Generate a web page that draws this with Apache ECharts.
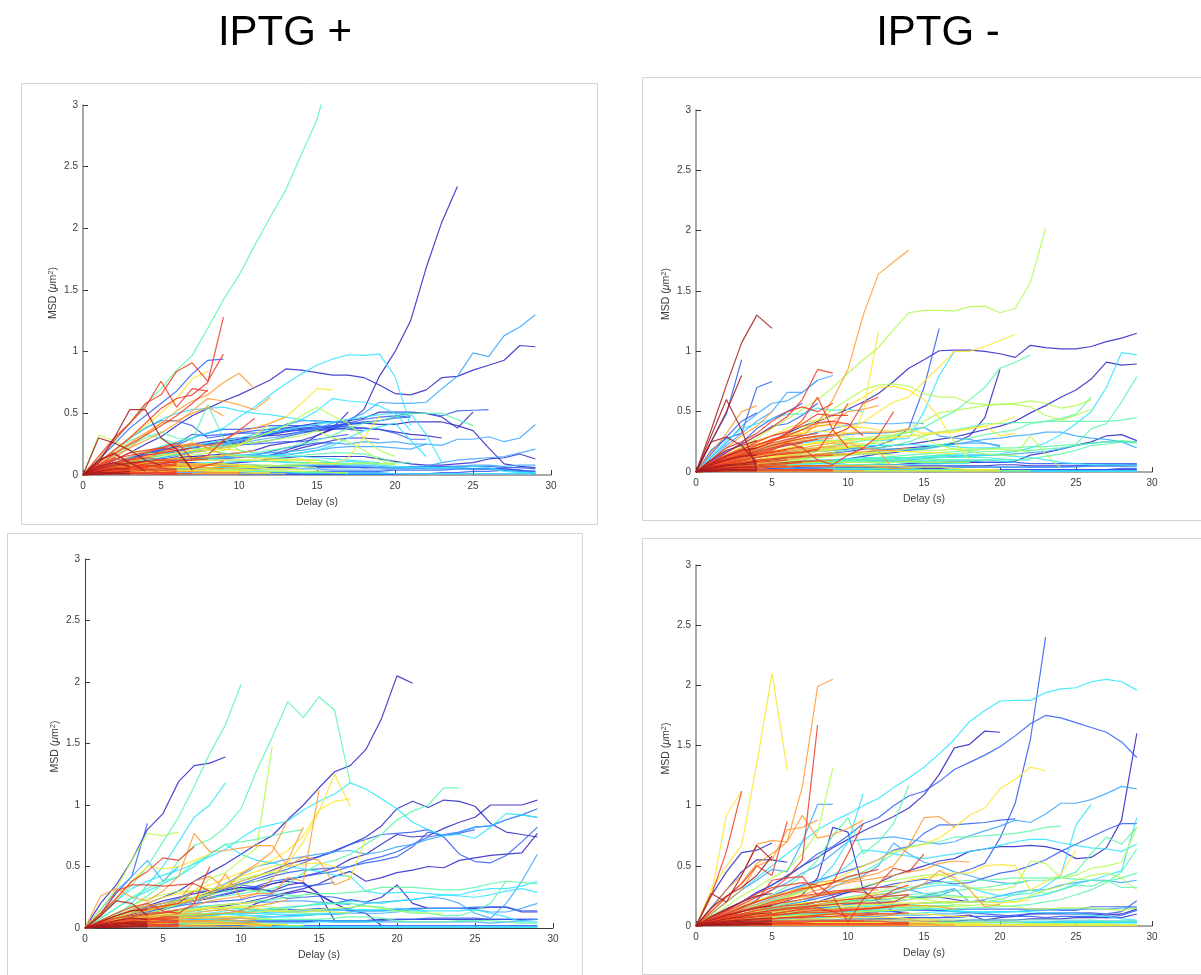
<!DOCTYPE html>
<html>
<head>
<meta charset="utf-8">
<style>
  html, body { margin: 0; background: #fff; }
  #chart { width: 1201px; height: 975px; filter: blur(0.45px); }
</style>
<script src="https://cdn.jsdelivr.net/npm/echarts@6/dist/echarts.min.js"></script>
</head>
<body>
<div id="chart"></div>
<script>
// MSD tracks, one value per second of delay starting at 0.
// Grouped by line colour, blue (long tracks) first so red ends up on top.
const titles = ["IPTG +", "IPTG -"];

// ---- top left, IPTG +
const p1DarkBlue = [
  [0,.06,.12,.18,.25,.31,.4,.48,.54,.6,.65,.71,.77,.86,.85,.83,.81,.81,.79,.73,.66,.65,.69,.79,.8,.85,.89,.93,1.05,1.04],
  [0,.03,.05,.08,.1,.12,.14,.15,.16,.17,.18,.2,.24,.26,.28,.32,.37,.43,.53,.8,1,1.25,1.68,2.05,2.34],
  [0,.04,.08,.11,.14,.17,.2,.22,.24,.25,.26,.3,.33,.38,.4,.42,.43,.44,.46,.51,.51,.51,.5,.47,.38,.51],
  [0,.04,.08,.12,.16,.19,.22,.24,.25,.27,.29,.31,.33,.35,.37,.38,.4,.41,.42,.41,.41,.43,.43,.43,.4,.36,.22,.09,.07,.06],
  [0,.03,.06,.09,.11,.13,.14,.15,.15,.15,.15,.15,.16,.2,.24,.32,.38,.51],
  [0,.04,.07,.09,.1,.1,.1,.1,.09,.09,.1,.11,.13,.14,.15,.15,.15,.15,.15,.13,.11,.09,.08,.08,.09,.1,.13,.14,.17,.13],
  [0,.02,.03,.04,.04,.05,.05,.05,.05,.05,.05,.05,.06,.06,.07,.07,.07,.07,.06,.06,.06,.06,.06,.06,.06,.05,.05,.05,.04,.01],
  [0,.05,.1,.14,.17,.2,.23,.25,.27,.29,.3,.31,.32,.33,.35,.36,.37,.38,.38,.37,.35,.33,.32,.3],
  [0,.03,.06,.08,.1,.12,.13,.14,.14,.14,.15,.14,.16,.18,.22,.25,.28,.3,.3,.29]
];
const p1Blue = [
  [0,.12,.25,.38,.48,.58,.68,.82,.93,.94],
  [0,.1,.2,.3,.38,.44,.44,.4,.3,.32,.34,.36,.37,.38,.38,.38,.39,.39,.38,.37,.34,.29,.29],
  [0,.05,.1,.14,.18,.2,.22,.24,.25,.26,.27,.3,.33,.36,.38,.39,.4,.42,.45,.47,.48,.5,.5,.48,.52,.525,.53],
  [0,.04,.07,.1,.13,.16,.19,.22,.24,.26,.28,.31,.36,.41,.44,.44,.43,.42,.42,.44,.46,.47],
  [0,.03,.06,.08,.1,.12,.15,.18,.2,.22,.24,.26,.28,.31,.34,.36,.39,.41,.43,.44,.47,.48],
  [0,.02,.05,.08,.12,.18,.24,.3,.34,.37,.37,.38,.4,.4,.4,.4,.38,.37,.36],
  [0,.02,.04,.05,.06,.07,.07,.08,.08,.08,.08,.08,.07,.07,.07,.06,.06,.06,.06,.06,.06,.06,.07,.07,.07,.07,.07,.06,.06,.05],
  [0,.01,.02,.03,.03,.03,.03,.03,.03,.03,.02,.02,.02,.02,.02,.03,.03,.03,.03,.03,.04,.04,.04,.04,.05,.05,.05,.05,.04,.03],
  [0,.01,.01,.01,.01,.01,.01,.01,.01,.01,.01,.01,.01,.01,.01,.01,.01,.01,.01,.01,.01],
  [0,.04,.08,.13,.17,.21,.25,.33,.32,.33,.34,.34,.35,.36,.36,.37,.38,.4],
  [0,.02,.05,.08,.11,.14,.16,.19,.21,.23,.25,.25,.26,.27,.27,.29,.31,.33],
  [0,.01,.03,.05,.07,.09,.11,.12,.13,.13,.14,.16,.19,.22,.24,.26,.26],
  [0,.01,.01,.01,.01,.005,.005,.005,.005,.005,.005,.005,.005,.005,.005,.005,.005,.005,.005,.005,.005],
  [0,.005,.005,.005,.005,.005,.005,.005,.005,.005,.005,.005,.005,.005,.005,.005,.005,.005,.005,.005,.005,.01,.01,.02,.02,.03,.03,.04,.03,.03]
];
const p1LightBlue = [
  [0,.03,.07,.1,.13,.16,.18,.2,.22,.24,.25,.28,.3,.32,.35,.38,.42,.45,.5,.59,.58,.58,.59,.7,.8,.99,.96,1.13,1.2,1.3],
  [0,.03,.05,.07,.09,.11,.12,.13,.14,.15,.16,.17,.18,.19,.2,.22,.26,.25,.27,.26,.27,.25,.25,.24,.29,.29,.31,.27,.3,.41],
  [0,.02,.04,.06,.08,.1,.12,.13,.14,.15,.15,.15,.16,.16,.18,.2,.22,.23,.23,.23,.22,.21,.25],
  [0,.02,.03,.04,.05,.05,.05,.06,.06,.06,.06,.06,.07,.07,.07,.08,.08,.07,.07,.06,.06,.07,.07,.1,.12,.13,.14,.15,.18,.21],
  [0,.01,.02,.03,.03,.04,.04,.05,.05,.05,.05,.05,.05,.05,.05,.05,.04,.04,.04,.04,.05,.05,.06,.06,.07,.08,.08,.07,.08,.08],
  [0,.01,.01,.01,.02,.02,.02,.02,.02,.02,.02,.02,.02,.02,.02,.02,.02,.02,.02,.02,.01,.01,.01,.01,.01,.01,.01,.01,.01,.01],
  [0,.01,.02,.03,.04,.04,.05,.05,.06,.06,.07,.07,.07,.08,.08,.08,.08,.08,.08,.07,.06,.06,.05,.05,.05,.05,.05,.04,.03,.02]
];
const p1Cyan = [
  [0,.04,.09,.14,.19,.23,.27,.3,.34,.38,.47,.55,.65,.74,.82,.89,.94,.975,.97,.98,.8,.4],
  [0,.03,.07,.1,.14,.17,.2,.23,.26,.28,.3,.33,.38,.4,.45,.52,.62,.6,.59,.56,.5,.36],
  [0,.1,.2,.3,.38,.45,.5,.53,.54,.55,.52,.5,.49,.47,.45,.43,.42],
  [0,.03,.06,.09,.12,.14,.17,.19,.22,.25,.28,.31,.34,.37,.39,.41,.43,.45,.47,.49,.5,.5,.33,.1],
  [0,.02,.04,.06,.08,.1,.11,.12,.13,.14,.15,.15,.16,.17,.18,.2,.24,.3,.36,.39,.42,.28,.15],
  [0,.02,.04,.05,.06,.07,.08,.09,.1,.1,.11,.11,.11,.1,.1,.1,.1,.11,.1,.08,.07,.06,.06,.06,.06,.07,.06,.03,.02,.02],
  [0,.01,.02,.02,.03,.03,.03,.03,.04,.03,.03,.03,.03,.03,.02,.02,.02,.01,.01,.01,.01,.01,.01,.01,.01,.01,.01,.01,.01,.01],
  [0,.03,.06,.08,.1,.12,.13,.14,.15,.16,.16,.16,.16,.15,.15,.14,.13,.12,.11,.1]
];
const p1Green = [
  [0,.13,.27,.42,.57,.7,.85,.97,1.19,1.42,1.62,1.86,2.09,2.31,2.6,2.88,3.35],
  [0,.08,.16,.24,.3,.35,.3,.28,.57,.3,.2,.18,.2,.22,.25,.28,.32,.38,.42,.44,.47,.5,.5,.5,.45,.4],
  [0,.1,.2,.28,.33,.3,.25,.22,.2,.18,.16,.15,.15,.15,.16,.17,.18,.18,.17,.14,.1,.1],
  [0,.03,.05,.07,.09,.1,.11,.12,.12,.12,.12,.12,.11,.11,.1,.1,.09,.09,.09,.09,.09],
  [0,.02,.03,.04,.05,.05,.06,.06,.05,.05,.04,.04,.03,.03,.02,.02,.02,.01],
  [0,.02,.05,.07,.09,.11,.13,.14,.15,.16,.16,.15,.14,.13,.12,.12,.1,.08]
];
const p1Lime = [
  [0,.32,.28,.2,.18,.17,.16,.16,.18,.2,.24,.3,.35,.4,.48,.55,.48,.42,.3,.2,.15],
  [0,.03,.07,.1,.13,.15,.18,.2,.22,.23,.25,.26,.28,.3,.32,.36,.3,.27,.2,.12,.08],
  [0,.02,.04,.06,.07,.08,.09,.09,.08,.07,.07,.07,.07,.08,.09,.1,.09,.09,.1,.09,.09],
  [0,.01,.02,.03,.03,.03,.04,.04,.04,.04,.04,.04,.03,.03,.03,.03,.02,.02],
  [0,.02,.04,.05,.06,.07,.08,.08,.09,.09,.08,.08,.08,.07,.07,.06],
  [0,.01,.02,.04,.05,.06,.06,.06,.06,.07,.06,.06,.05,.05]
];
const p1Yellow = [
  [0,.04,.08,.11,.14,.16,.18,.2,.21,.22,.24,.32,.42,.47,.58,.7,.69],
  [0,.03,.05,.07,.09,.1,.11,.12,.12,.12,.12,.12,.12,.12,.13,.09,.09,.14,.3,.48],
  [0,.1,.2,.3,.4,.5,.62,.78,.84],
  [0,.03,.06,.09,.11,.12,.13,.14,.15,.16,.15,.14,.13,.12,.12,.12],
  [0,.02,.04,.05,.06,.07,.07,.08,.08,.07,.07,.06,.05,.05,.04],
  [0,.01,.02,.03,.03,.04,.04,.04,.03,.03,.03,.02,.02],
  [0,.01,.01,.01,.01,.01,.01,.01,.01,.01,.01,.01,.01,.01],
  [0,.02,.03,.04,.05,.06,.06,.06,.05,.05,.05,.04],
  [0,.03,.05,.07,.08,.08,.09,.09,.09,.09,.08,.07],
  [0,.01,.02,.02,.03,.03,.03,.03,.04,.03,.03],
  [0,.02,.04,.06,.1,.12,.14,.18,.2,.21,.2]
];
const p1Orange = [
  [0,.06,.14,.22,.33,.42,.52,.6,.65,.75,.825,.7],
  [0,.08,.15,.22,.28,.34,.42,.52,.62,.6,.57,.53,.63],
  [0,.1,.18,.26,.34,.42,.44,.5,.55,.48],
  [0,.05,.1,.15,.19,.22,.24,.25,.22,.28,.35,.38,.42,.47],
  [0,.04,.08,.12,.15,.19,.22,.26,.22,.16,.18,.2],
  [0,.02,.04,.06,.07,.08,.08,.08,.08,.07,.07],
  [0,.01,.02,.02,.03,.03,.03,.03,.02,.02,.02],
  [0,.01,.01,.01,.01,.01,.01,.01,.01,.01,.01],
  [0,.03,.06,.1,.14,.18,.22,.24,.24,.25],
  [0,.02,.05,.08,.1,.12,.13,.14,.14,.15],
  [0,.04,.07,.09,.1,.11,.1,.09,.08],
  [0,.005,.01,.01,.01,.01,.01,.01,.01,.01,.01],
  [0,.02,.03,.05,.06,.06,.07,.07,.06,.05]
];
const p1Red = [
  [0,.1,.2,.3,.42,.54,.62,.65,.75,1.28],
  [0,.12,.28,.42,.58,.65,.84,.91,.76,.98],
  [0,.15,.3,.42,.55,.76,.55,.7,.68],
  [0,.08,.17,.25,.32,.4,.48,.58,.69],
  [0,.06,.12,.18,.2,.22,.26,.13,.16,.28,.36,.46],
  [0,.07,.13,.16,.18,.22,.2,.05,.08,.11],
  [0,.12,.18,.1,.05,.02,.01,.01],
  [0,.05,.1,.13,.16,.18,.2,.22],
  [0,.04,.07,.09,.11,.12,.12,.12,.13],
  [0,.03,.05,.06,.07,.07,.08],
  [0,.02,.03,.04,.05,.05,.05],
  [0,.01,.02,.02,.02,.02,.02],
  [0,.01,.01,.01,.01,.01,.01],
  [0,.06,.09,.12,.14,.12,.1],
  [0,.03,.04,.05,.06,.09,.11,.12],
  [0,.04,.06,.07,.08,.08,.09],
  [0,.02,.04,.06,.09,.1,.1],
  [0,.005,.01,.01,.01,.005,.005],
  [0,.08,.14,.1,.08,.06,.04],
  [0,.01,.03,.03,.04,.04,.03]
];
const p1DarkRed = [
  [0,.1,.3,.53,.53,.3,.21,.04],
  [0,.3,.26,.2,.12,.08],
  [0,.12,.17,.1,.03],
  [0,.05,.08,.1,.11],
  [0,.03,.05,.05],
  [0,.02,.02,.03],
  [0,.01,.01,.01],
  [0,.005,.01,.01],
  [0,.07,.1,.07]
];

// ---- top right, IPTG -
const p2DarkBlue = [
  [0,.05,.1,.15,.2,.26,.32,.38,.42,.47,.52,.58,.65,.75,.86,.93,1.005,1.01,1.01,1,.98,.95,1.05,1.03,1.02,1.02,1.04,1.08,1.11,1.15],
  [0,.02,.04,.06,.08,.1,.11,.12,.14,.16,.17,.19,.2,.22,.23,.25,.27,.29,.32,.35,.38,.42,.49,.55,.62,.68,.77,.91,.885,.895],
  [0,.01,.02,.03,.03,.04,.04,.04,.05,.05,.05,.06,.06,.06,.07,.07,.07,.08,.08,.08,.08,.09,.14,.16,.19,.22,.25,.3,.31,.26],
  [0,.02,.05,.07,.09,.11,.12,.13,.14,.15,.15,.16,.18,.19,.2,.21,.22,.24,.3,.45,.85],
  [0,.01,.02,.03,.03,.03,.03,.03,.03,.03,.04,.04,.04,.04,.05,.05,.05,.05,.05,.05,.06,.06,.05,.05,.05,.05,.05,.05,.05,.05],
  [0,.01,.01,.01,.01,.01,.01,.02,.02,.02,.02,.02,.02,.02,.03,.03,.03,.02,.02,.02,.02,.02,.02,.02,.02,.02,.02,.02,.02,.02],
  [0,.02,.03,.04,.05,.06,.07,.08,.09,.1,.11,.13,.15,.16,.18,.2,.22,.23]
];
const p2Blue = [
  [0,.04,.07,.1,.12,.14,.15,.16,.17,.18,.19,.2,.22,.27,.36,.7,1.19],
  [0,.25,.48,.93],
  [0,.18,.28,.32,.7,.75],
  [0,.08,.16,.24,.36,.44,.5,.57],
  [0,.15,.29,.42,.49],
  [0,.02,.03,.05,.06,.07,.08,.08,.08,.09,.1,.1,.1,.09,.09,.08,.08,.09,.09,.08,.08,.08,.07,.07,.07,.07,.07,.07,.07,.07],
  [0,.01,.02,.02,.03,.03,.04,.04,.04,.04,.04,.04,.04,.04,.04,.04,.04,.04,.04,.04,.04,.04,.04,.04,.04,.05,.05,.06,.06,.06],
  [0,.01,.01,.01,.01,.01,.01,.01,.01,.01,.01,.01,.01,.01,.02,.02,.02,.02,.02,.02,.02,.02,.02,.02,.02,.02,.02,.02,.03,.03],
  [0,.005,.005,.005,.01,.01,.01,.01,.01,.01,.01,.01,.01,.01,.01,.01,.01,.01,.01,.01,.01,.01,.01,.01,.01,.01,.01,.015,.015,.015],
  [0,.09,.17,.23,.3,.38,.4,.47,.57]
];
const p2LightBlue = [
  [0,.12,.24,.38,.48,.57,.59,.66,.76,.8],
  [0,.1,.22,.32,.42,.5,.66,.66,.76],
  [0,.05,.1,.14,.18,.22,.26,.3,.33,.36,.39,.41,.4,.4,.41,.4],
  [0,.04,.08,.12,.17,.2,.22,.25,.28,.3,.31,.32,.32,.33,.35,.37,.3,.28,.27,.24,.21],
  [0,.02,.04,.06,.08,.09,.1,.12,.13,.14,.14,.15,.16,.17,.18,.19,.21,.23,.25,.27,.28,.3,.31,.33,.33,.3,.28,.27,.25,.2],
  [0,.01,.03,.04,.05,.06,.06,.07,.07,.07,.08,.08,.09,.09,.1,.11,.12,.13,.14,.14,.14,.15,.16,.17,.19,.22,.24,.25,.25,.25],
  [0,.01,.02,.02,.02,.02,.03,.03,.03,.03,.03,.03,.03,.03,.03,.04,.04,.04,.04,.04,.04,.04,.04,.04,.04,.04,.05,.05,.05,.05],
  [0,.03,.06,.08,.1,.12,.14,.16,.18,.2,.2,.2,.19,.19,.19,.2,.22,.23,.24,.24,.22]
];
const p2Cyan = [
  [0,.02,.04,.06,.07,.08,.08,.09,.09,.09,.1,.1,.1,.11,.11,.12,.12,.12,.13,.14,.15,.17,.2,.24,.31,.4,.5,.7,.99,.97],
  [0,.05,.1,.14,.18,.22,.23,.24,.26,.26,.27,.27,.26,.27,.28,.5,.8,1],
  [0,.13,.26,.36,.4,.44,.48,.48,.53,.51,.52,.5],
  [0,.03,.06,.09,.12,.15,.16,.18,.19,.2,.21,.22,.22,.22,.23,.22,.22,.21,.2,.2,.2],
  [0,.02,.03,.05,.06,.07,.08,.09,.1,.1,.1,.11,.11,.11,.12,.12,.13,.14,.14,.14,.14,.13,.12,.1,.08,.07,.06,.06,.06,.05],
  [0,.01,.01,.02,.02,.02,.02,.02,.02,.02,.02,.02,.02,.02,.02,.02,.02,.02,.02,.02,.01,.01,.01,.01,.01,.01,.01,.01,.01,.01],
  [0,.02,.03,.04,.05,.06,.07,.08,.09,.1,.11,.12,.12,.12,.12,.13,.14,.14,.13,.12,.11,.1,.1],
  [0,.01,.02,.03,.04,.05,.05,.06,.07,.07,.08,.08,.09,.09,.09,.09,.1,.1,.1,.1,.09,.08],
  [0,.01,.02,.03,.03,.04,.04,.05,.05,.05,.06,.06,.06,.06,.06,.07,.07,.07,.07],
  [0,.005,.01,.01,.01,.01,.01,.01,.01,.01,.01,.01,.01,.01,.01,.01,.01,.01,.01,.01,.01,.01,.01,.005,.005,.005,.005,.005,.005,.005]
];
const p2Green = [
  [0,.03,.07,.1,.13,.15,.17,.19,.2,.22,.24,.26,.28,.3,.33,.37,.44,.5,.6,.7,.86,.91,.97],
  [0,.02,.04,.06,.08,.09,.1,.11,.13,.14,.15,.16,.17,.18,.19,.2,.22,.25,.28,.31,.33,.35,.4,.42,.44,.48,.62],
  [0,.03,.06,.08,.1,.11,.12,.13,.14,.16,.18,.2,.2,.22,.25,.3,.33,.35,.37,.4,.4,.41,.41,.42,.42,.42,.42,.42,.43,.45],
  [0,.02,.03,.05,.06,.07,.08,.09,.09,.09,.1,.11,.12,.13,.14,.15,.16,.17,.18,.19,.2,.2,.21,.21,.22,.23,.36,.4,.58,.79],
  [0,.02,.03,.04,.05,.06,.07,.08,.08,.09,.1,.1,.11,.12,.12,.13,.14,.15,.16,.17,.17,.18,.18,.19,.2,.22,.24,.25,.26,.25],
  [0,.01,.02,.03,.04,.04,.05,.05,.05,.06,.06,.06,.07,.08,.08,.08,.09,.09,.09,.1,.1,.1,.11,.13,.15,.18,.22,.23,.25,.24],
  [0,.02,.03,.04,.05,.06,.07,.07,.08,.09,.09,.1,.1,.1,.11,.11,.12,.12,.12,.12],
  [0,.01,.03,.04,.05,.06,.06,.07,.08,.08,.08,.09,.09,.09,.09,.1,.1,.1],
  [0,.005,.01,.01,.01,.02,.02,.02,.02,.03,.03,.03,.03,.03,.03,.02,.02,.02,.02,.02]
];
const p2Lime = [
  [0,.07,.14,.21,.28,.36,.44,.52,.6,.7,.82,.93,1.03,1.18,1.32,1.34,1.34,1.335,1.37,1.375,1.32,1.355,1.57,2.02],
  [0,.05,.1,.15,.2,.25,.3,.36,.43,.52,.6,.68,.72,.73,.71,.65,.62,.62,.57,.56,.56,.56,.54,.47,.43,.47,.52],
  [0,.03,.06,.08,.1,.12,.14,.16,.17,.18,.2,.22,.26,.3,.36,.42,.49,.51,.53,.55,.56,.57,.59,.57,.53,.55,.6],
  [0,.04,.08,.12,.15,.17,.19,.22,.24,.25,.27,.28,.3,.31,.33,.28,.22,.19,.17,.15,.14,.14,.3,.15,.03],
  [0,.02,.04,.06,.07,.09,.1,.11,.12,.14,.15,.16,.16,.17,.17,.18,.18,.19,.19,.19,.19,.18,.17],
  [0,.02,.04,.05,.06,.06,.07,.08,.08,.08,.08,.08,.08,.08,.09,.08,.08,.08,.08],
  [0,.01,.01,.01,.01,.01,.01,.01,.01,.01,.01,.01,.01,.01,.01,.01,.01,.01,.01,.01,.01,.01,.01],
  [0,.05,.09,.13,.17,.21,.25,.28,.3,.31,.28,.27,.28,.29,.3],
  [0,.03,.05,.07,.09,.11,.13,.15,.17,.19,.21,.23,.24,.25],
  [0,.02,.03,.05,.06,.08,.09,.1,.12,.13,.14,.15,.15,.14]
];
const p2Yellow = [
  [0,.03,.05,.08,.1,.13,.16,.18,.2,.22,.37,.41,.5,.58,.62,.75,.87,1,1,1.04,1.09,1.14],
  [0,.02,.05,.08,.1,.12,.15,.16,.18,.19,.2,.5,1.16],
  [0,.07,.12,.18,.24,.3,.36,.41,.43,.46,.55,.62,.7,.71,.68,.6,.45,.25,.1],
  [0,.05,.1,.15,.2,.26,.3,.33,.38,.39,.37,.37,.35,.34,.35,.32,.33,.34,.36,.38,.3,.32],
  [0,.04,.08,.11,.14,.17,.2,.22,.24,.25,.26,.27,.27,.28,.3,.31,.32,.33,.36,.38,.41,.46],
  [0,.02,.04,.06,.08,.09,.11,.12,.14,.15,.15,.16,.16,.17,.17,.16,.16,.15],
  [0,.01,.02,.03,.03,.04,.04,.05,.05,.05,.05,.05,.05,.05,.04,.04,.04,.03,.02,.02,.02],
  [0,.06,.11,.16,.21,.26,.29,.32,.34,.33,.32],
  [0,.03,.07,.1,.13,.16,.19,.22,.25,.26,.24,.23],
  [0,.02,.05,.07,.09,.11,.14,.17,.19,.2,.21,.21],
  [0,.005,.01,.01,.01,.01,.01,.01,.01,.01,.01,.01,.01,.01,.01,.01,.01,.01,.01,.01,.01]
];
const p2Orange = [
  [0,.03,.06,.1,.14,.18,.25,.3,.4,.6,.85,1.3,1.64,1.74,1.84],
  [0,.16,.32,.5,.55],
  [0,.1,.2,.3,.38,.5],
  [0,.08,.14,.2,.26,.3,.34,.38,.4,.42,.5,.52,.55],
  [0,.05,.1,.14,.19,.23,.26,.27,.29,.3,.32,.33,.33,.33,.36],
  [0,.04,.07,.1,.13,.16,.18,.2,.22,.24,.24,.2,.18,.02],
  [0,.02,.04,.05,.07,.08,.1,.12,.13,.14,.15,.17,.18,.18,.2],
  [0,.01,.02,.03,.04,.04,.05,.05,.05,.05,.05,.05,.04,.03,.03],
  [0,.06,.12,.17,.22,.27,.31,.35,.38,.4,.4],
  [0,.05,.09,.13,.17,.21,.24,.26,.27,.28],
  [0,.03,.06,.09,.12,.15,.17,.19,.2,.21,.23],
  [0,.02,.05,.07,.09,.11,.13,.14,.15,.16],
  [0,.01,.03,.04,.05,.06,.07,.08,.09,.1],
  [0,.005,.01,.01,.01,.01,.01,.01,.01,.01,.01,.01]
];
const p2Red = [
  [0,.08,.16,.23,.3,.37,.46,.6,.85,.82],
  [0,.05,.1,.15,.2,.25,.32,.43,.62,.35,.2],
  [0,.1,.2,.25,.32,.42,.5,.54,.5,.57],
  [0,.06,.12,.17,.22,.27,.3,.35,.41,.42,.4,.3],
  [0,.05,.1,.14,.18,.22,.25,.28,.3,.31,.36,.57,.62],
  [0,.07,.13,.18,.25,.3,.33,.4,.48,.47,.47],
  [0,.05,.09,.13,.15,.18,.24,.2,.1,.06,.14,.2,.3,.5],
  [0,.04,.07,.1,.12,.14,.15,.16,.18,.35,.57],
  [0,.03,.06,.08,.1,.11,.12,.13,.14,.14],
  [0,.02,.04,.05,.06,.07,.08,.09,.09],
  [0,.01,.02,.03,.03,.04,.04,.05,.05,.05],
  [0,.01,.01,.02,.02,.02,.02,.02,.02,.02],
  [0,.01,.01,.01,.01,.01,.01,.01,.01,.01],
  [0,.06,.11,.16,.2,.24,.27,.3,.32],
  [0,.05,.1,.13,.17,.2,.23,.25,.27],
  [0,.04,.08,.12,.15,.17,.19,.21],
  [0,.04,.07,.09,.12,.14,.16,.17,.19],
  [0,.03,.05,.07,.09,.1,.12,.13],
  [0,.02,.05,.06,.08,.09,.1],
  [0,.02,.03,.04,.05,.06,.07,.08],
  [0,.01,.03,.03,.04,.05,.05],
  [0,.03,.07,.11,.14,.16,.18],
  [0,.08,.14,.19,.23,.26,.29,.31],
  [0,.07,.11,.14,.16,.19,.22,.24]
];
const p2DarkRed = [
  [0,.35,.72,1.07,1.3,1.19],
  [0,.3,.6,.35,.02],
  [0,.25,.5,.8],
  [0,.25,.29,.22,.08],
  [0,.1,.18,.22,.26],
  [0,.06,.1,.13,.14],
  [0,.04,.06,.07,.09],
  [0,.02,.03,.04,.04],
  [0,.01,.02,.02,.02],
  [0,.07,.13,.18,.2],
  [0,.03,.05,.06,.07],
  [0,.005,.01,.01,.01]
];

// ---- bottom left, IPTG +
const p3DarkBlue = [
  [0,.2,.35,.55,.8,.93,1.19,1.32,1.34,1.39],
  [0,.05,.1,.15,.2,.25,.3,.38,.45,.52,.6,.68,.75,.88,1,1.14,1.27,1.32,1.45,1.7,2.05,1.99],
  [0,.05,.1,.14,.18,.22,.25,.28,.3,.33,.38,.42,.47,.52,.55,.58,.63,.68,.74,.83,.97,1.03,.98,1.04,1.03,.99,.85,.78,.76,.74],
  [0,.03,.07,.11,.14,.17,.2,.22,.24,.27,.3,.33,.36,.39,.42,.45,.49,.56,.6,.68,.76,.74,.75,.81,.86,.9,1,1,1,1.04],
  [0,.03,.05,.07,.09,.1,.12,.14,.16,.18,.2,.23,.26,.29,.32,.36,.42,.46,.38,.41,.45,.47,.5,.49,.55,.57,.59,.6,.61,.77],
  [0,.04,.08,.12,.15,.18,.22,.25,.29,.3,.33,.32,.3,.35,.37,.27,.2,.23,.21,.25,.35,.2,.16,.16,.16,.16,.17,.17,.13,.13],
  [0,.02,.04,.05,.06,.07,.08,.09,.1,.12,.14,.2,.24,.28,.3,.27,.2,.14,.12,.02],
  [0,.01,.02,.03,.03,.03,.03,.03,.04,.04,.04,.05,.05,.05,.05,.06,.06,.06,.06,.07,.07,.07,.07,.07,.07,.07,.07,.07,.07,.07],
  [0,.03,.06,.09,.12,.15,.19,.22,.27,.31,.33,.31,.36,.38,.36,.28,.06]
];
const p3Blue = [
  [0,.03,.06,.1,.13,.16,.2,.24,.28,.32,.36,.4,.44,.48,.53,.58,.62,.68,.72,.76,.77,.78,.8,.74,.6,.54,.53,.59,.7,.82],
  [0,.02,.05,.08,.12,.16,.2,.24,.28,.33,.36,.38,.42,.45,.47,.48,.49,.5,.55,.58,.62,.68,.74,.76,.78,.82,.83,.88,.92,.97],
  [0,.03,.07,.1,.14,.17,.19,.22,.25,.28,.31,.34,.38,.4,.42,.44,.46,.5,.53,.55,.58,.66,.78,.75,.77,.8],
  [0,.12,.28,.42,.85],
  [0,.02,.04,.06,.08,.09,.1,.11,.12,.12,.13,.14,.15,.15,.15,.16,.15,.14,.14,.14,.15,.16,.16,.16,.16,.17,.17,.17,.14,.14],
  [0,.01,.02,.03,.04,.05,.05,.05,.06,.06,.06,.06,.06,.06,.06,.06,.05,.05,.05,.06,.07,.07,.08,.08,.08,.08,.07,.07,.07,.07],
  [0,.01,.01,.01,.01,.01,.02,.02,.02,.02,.02,.02,.02,.02,.02,.02,.02,.02,.02,.02,.02,.02,.02,.02,.02,.02,.02,.02,.02,.02],
  [0,.04,.08,.12,.17,.2,.24,.3,.3,.32,.35,.33,.29,.32,.34,.35,.37],
  [0,.02,.05,.09,.12,.15,.18,.2,.21,.22,.23,.26,.27,.24,.25,.26,.25,.22],
  [0,.005,.005,.005,.005,.005,.005,.005,.005,.005,.005,.005,.005,.005,.005,.005,.005,.005,.005,.005,.005,.005,.005,.005,.005,.005,.005,.005,.01,.01]
];
const p3LightBlue = [
  [0,.03,.05,.08,.1,.12,.14,.18,.3,.36,.43,.5,.53,.56,.58,.6,.62,.63,.6,.62,.66,.68,.72,.75,.78,.82,.83,.88,.92,.9],
  [0,.15,.3,.42,.55,.38,.5],
  [0,.02,.04,.05,.07,.08,.09,.1,.11,.12,.12,.12,.13,.13,.14,.14,.15,.16,.2,.21,.22,.23,.25,.24,.2,.12,.08,.2,.38,.6],
  [0,.02,.03,.04,.05,.06,.06,.07,.07,.08,.08,.09,.09,.1,.1,.11,.11,.12,.12,.12,.13,.15,.16,.16,.16,.15,.13,.13,.16,.2],
  [0,.01,.02,.02,.03,.03,.04,.04,.04,.05,.05,.06,.06,.06,.06,.06,.06,.06,.06,.05,.05,.05,.05,.05,.05,.05,.04,.05,.06,.07],
  [0,.02,.05,.07,.1,.13,.15,.17,.18,.19,.2,.21,.21,.22,.22,.21,.2,.19]
];
const p3Cyan = [
  [0,.1,.22,.32,.38,.43,.47,.52,.58,.64,.73,.81,.84,.87,.96,1.03,1.09,1.18,1.13,1.05,.97,.86,.8,.75,.76,.73,.82,.93,.92,.9],
  [0,.08,.16,.24,.3,.36,.42,.5,.6,.68,.6,.55,.53,.5,.48,.46,.43,.42,.3,.28,.29,.29,.28,.27,.27,.3,.32,.32,.34,.38],
  [0,.02,.04,.06,.07,.08,.1,.11,.12,.14,.15,.15,.16,.17,.18,.19,.2,.22,.21,.2,.22,.23,.25,.27,.26,.25,.27,.3,.32,.29],
  [0,.05,.1,.2,.35,.5,.7,.9,1,1.18],
  [0,.01,.02,.03,.04,.05,.05,.06,.07,.07,.08,.08,.09,.09,.1,.11,.12,.13,.14,.14,.14,.14,.14,.14,.14,.15,.12,.09,.05,.05],
  [0,.01,.01,.01,.01,.01,.01,.01,.01,.01,.01,.01,.01,.01,.01,.01,.01,.01,.01,.01,.01,.01,.01,.01,.01,.01,.01,.01,.01,.01],
  [0,.02,.03,.05,.06,.08,.09,.1,.1,.11,.11,.12,.12,.13,.13,.14,.14,.15,.15,.15,.16,.15,.13],
  [0,.01,.03,.04,.05,.06,.07,.08,.09,.09,.1,.1,.11,.11,.11,.12,.12,.12],
  [0,.01,.01,.02,.02,.03,.03,.03,.03,.04,.04,.04,.04,.04,.04,.05,.05,.05,.05,.05],
  [0,.005,.005,.005,.005,.005,.005,.005,.005,.005,.005,.005,.005,.005,.005,.005,.005,.005,.005,.005,.005,.005,.005,.005,.005,.005,.005,.005,.005,.005]
];
const p3Green = [
  [0,.1,.22,.35,.5,.7,.9,1.15,1.42,1.65,1.98],
  [0,.06,.12,.18,.26,.36,.55,.67,.72,.82,.97,1.28,1.55,1.84,1.71,1.88,1.77,1.18],
  [0,.08,.16,.25,.32,.38,.42,.53,.6,.68,.7,.72,.75,.78,.8],
  [0,.03,.06,.09,.12,.15,.19,.22,.25,.26,.28,.3,.32,.36,.45,.52,.55,.6,.68,.76,.88,.95,1,1.14,1.14],
  [0,.03,.06,.08,.1,.12,.14,.16,.18,.19,.2,.22,.23,.25,.27,.28,.28,.29,.3,.33,.33,.33,.32,.31,.31,.33,.36,.38,.37,.36],
  [0,.02,.04,.06,.07,.09,.1,.11,.11,.12,.13,.14,.15,.16,.18,.2,.2,.2,.18,.17,.14,.12,.12,.1,.1,.14,.2,.38],
  [0,.02,.03,.04,.05,.05,.06,.06,.06,.06,.06,.07,.07,.07,.07,.07,.08,.09,.09,.08,.06,.05,.05,.05,.06,.06,.06,.05,.04,.04],
  [0,.05,.1,.14,.18,.2,.23,.25,.27,.3,.32,.3,.28,.27,.25],
  [0,.02,.05,.07,.09,.1,.12,.13,.14,.16,.16,.15,.14,.13,.12,.11]
];
const p3Lime = [
  [0,.15,.32,.55,.77,.75,.78],
  [0,.05,.09,.13,.16,.18,.22,.3,.4,.45,.55,.65,1.47],
  [0,.03,.06,.09,.12,.15,.2,.25,.3,.35,.4,.43,.45,.46],
  [0,.02,.04,.06,.08,.09,.1,.11,.12,.12,.13,.13,.14,.14,.15,.15,.16,.17,.18,.16,.14,.13,.12,.12],
  [0,.01,.02,.03,.03,.04,.04,.04,.04,.04,.03,.03,.03,.02,.02],
  [0,.06,.12,.18,.24,.27,.3,.3,.32,.33,.35,.38,.4],
  [0,.03,.05,.08,.1,.12,.14,.15,.16,.17,.18,.18,.17,.15],
  [0,.02,.03,.05,.06,.07,.08,.09,.09,.09,.09,.08,.07]
];
const p3Yellow = [
  [0,.12,.24,.38,.5,.48,.5,.55,.6],
  [0,.05,.1,.15,.2,.25,.28,.3,.35,.4,.45,.5,.55,.63,.75,.96,1.03,1.05],
  [0,.04,.08,.12,.15,.18,.2,.25,.3,.35,.42,.46,.5,.53,.7,.95,1.25,.99],
  [0,.03,.07,.1,.14,.17,.2,.24,.28,.33,.38,.42,.46,.5,.52,.53,.5,.4,.73],
  [0,.02,.04,.06,.08,.1,.12,.14,.16,.16,.17,.16,.14,.13,.13,.14,.13,.12],
  [0,.01,.02,.03,.04,.04,.05,.05,.05,.05,.04,.04,.03,.03],
  [0,.03,.05,.07,.09,.11,.13,.15,.17,.19,.2,.21],
  [0,.02,.03,.05,.06,.07,.08,.08,.09,.09,.09,.08],
  [0,.01,.01,.02,.02,.02,.02,.03,.03,.03,.03,.02,.02]
];
const p3Orange = [
  [0,.26,.32,.25,.22,.3,.42,.77,.62,.63,.65,.67,.67,.5,.58,.55,.35,.4],
  [0,.05,.1,.14,.18,.2,.22,.38,.42,.32,.44,.52,.62,.88],
  [0,.04,.08,.12,.15,.17,.2,.22,.25,.44,.24,.28,.4,.55,.82],
  [0,.03,.06,.08,.1,.13,.15,.18,.22,.24,.26,.28,.28,.41,.38,1.12],
  [0,.02,.04,.06,.07,.08,.09,.1,.11,.12,.14,.18,.2,.23],
  [0,.01,.02,.03,.04,.04,.05,.05,.05,.04,.04,.03,.01],
  [0,.01,.01,.02,.02,.02,.02,.02,.02,.01,.01],
  [0,.02,.03,.05,.06,.07,.07,.08,.08,.08,.08,.07],
  [0,.01,.03,.04,.05,.05,.06,.06,.06,.07,.06,.05],
  [0,.005,.01,.01,.01,.01,.01,.01,.01,.01,.01,.01],
  [0,.03,.05,.07,.09,.1,.11,.12,.14,.15,.13,.12]
];
const p3Red = [
  [0,.12,.24,.38,.46,.57,.55,.66],
  [0,.1,.3,.35,.35,.34,.35,.36,.3],
  [0,.06,.12,.17,.2,.14,.12,.2,.5],
  [0,.05,.1,.14,.16,.18,.2,.3],
  [0,.04,.08,.1,.12,.13,.12],
  [0,.03,.05,.07,.08,.08,.08],
  [0,.02,.03,.05,.05,.06,.05],
  [0,.01,.02,.03,.03,.03,.03],
  [0,.01,.01,.01,.01,.01,.01],
  [0,.02,.04,.06,.07,.07,.06],
  [0,.01,.03,.04,.04,.05,.04],
  [0,.02,.04,.04,.06,.09,.09],
  [0,.005,.01,.01,.02,.02,.02],
  [0,.03,.06,.09,.11,.12,.15]
];
const p3DarkRed = [
  [0,.1,.22,.2,.1],
  [0,.05,.1,.14,.15],
  [0,.03,.06,.08,.07],
  [0,.02,.03,.05,.05],
  [0,.01,.02,.03,.03],
  [0,.01,.01,.01,.01],
  [0,.005,.01,.02,.02],
  [0,.02,.04,.04,.04],
  [0,.005,.005,.01,.01]
];

// ---- bottom right, IPTG -
const p4DarkBlue = [
  [0,.07,.14,.2,.28,.34,.42,.5,.57,.65,.72,.79,.85,.91,.98,1.09,1.26,1.48,1.51,1.62,1.61],
  [0,.02,.04,.06,.08,.1,.14,.17,.2,.24,.28,.32,.36,.42,.46,.5,.54,.56,.62,.64,.66,.66,.67,.66,.63,.56,.57,.65,.88,1.6],
  [0,.25,.45,.61,.63,.69],
  [0,.15,.3,.45,.55,.55,.53],
  [0,.03,.06,.1,.13,.17,.21,.26,.4,.82,.78,.3,.2,.12,.1],
  [0,.01,.02,.03,.03,.04,.04,.05,.05,.05,.05,.05,.06,.06,.07,.07,.07,.08,.09,.05,.07,.08,.1,.1,.1,.1,.1,.09,.1,.14],
  [0,.01,.01,.01,.02,.02,.02,.02,.02,.02,.02,.03,.03,.03,.03,.03,.04,.04,.05,.05,.05,.05,.06,.06,.06,.07,.07,.07,.07,.1],
  [0,.02,.04,.07,.09,.11,.13,.14,.15,.16,.18,.2,.22,.23,.24,.24,.24,.22,.2,.21]
];
const p4Blue = [
  [0,.06,.13,.2,.27,.34,.41,.5,.6,.66,.75,.85,.9,1,1.08,1.12,1.2,1.3,1.36,1.42,1.49,1.58,1.68,1.75,1.73,1.69,1.65,1.61,1.53,1.4],
  [0,.02,.04,.06,.08,.1,.12,.14,.16,.18,.2,.22,.24,.27,.3,.35,.38,.43,.47,.52,.73,1.02,1.55,2.4],
  [0,.05,.1,.15,.2,.25,.3,.34,.38,.42,.46,.5,.55,.63,.66,.77,.84,.84,.85,.86,.88,.89],
  [0,.03,.06,.09,.11,.14,.17,.2,.23,.26,.28,.3,.32,.35,.37,.39,.37,.35,.36,.4,.44,.46,.5,.55,.62,.68,.74,.8,.85,.85],
  [0,.02,.04,.05,.06,.07,.08,.09,.1,.1,.11,.11,.12,.12,.13,.13,.13,.14,.14,.14,.14,.14,.14,.14,.13,.13,.16,.16,.16,.16],
  [0,.01,.02,.03,.04,.04,.05,.05,.05,.05,.06,.06,.06,.06,.06,.07,.07,.07,.08,.08,.08,.09,.1,.11,.11,.11,.11,.1,.12,.21],
  [0,.01,.01,.02,.02,.02,.02,.02,.02,.03,.03,.03,.03,.03,.03,.03,.03,.03,.03,.03,.03,.03,.03,.03,.03,.03,.03,.03,.03,.03],
  [0,.02,.03,.05,.06,.07,.09,.1,.11,.12,.12,.13,.13,.13,.14,.14,.13,.12,.11,.1,.09,.08,.08,.07,.08,.08,.08,.07,.09,.13]
];
const p4LightBlue = [
  [0,.05,.1,.16,.22,.3,.36,.44,.5,.6,.7,.72,.73,.74,.72,.7,.68,.7,.75,.79,.83,.88,.86,.93,1.02,1.02,1.05,1.1,1.16,1.14],
  [0,.1,.2,.3,.38,.47,.45,.7,1.01,1.01],
  [0,.03,.06,.09,.12,.15,.18,.2,.25,.32,.38,.42,.5,.69,.6,.53,.5,.45,.42,.38,.36,.35,.38],
  [0,.03,.05,.07,.09,.11,.12,.14,.15,.16,.18,.18,.2,.2,.22,.25,.28,.31,.2,.22,.25,.28,.3,.3,.34,.36,.38,.38,.36,.38],
  [0,.02,.03,.04,.05,.05,.06,.06,.07,.07,.07,.08,.08,.09,.09,.09,.1,.1,.11,.11,.12,.12,.13,.13,.14,.14,.14,.14,.15,.15],
  [0,.01,.01,.02,.02,.02,.02,.02,.02,.02,.02,.02,.02,.02,.02,.02,.02,.03,.03,.03,.03,.03,.03,.03,.04,.04,.04,.04,.04,.04],
  [0,.03,.07,.1,.13,.16,.19,.22,.25,.27,.3,.31,.32,.33,.3,.27,.25,.3]
];
const p4Cyan = [
  [0,.1,.2,.3,.4,.5,.6,.7,.8,.87,.93,1,1.06,1.15,1.23,1.32,1.43,1.55,1.7,1.79,1.87,1.875,1.875,1.94,1.97,1.98,2.03,2.05,2.03,1.96],
  [0,.04,.08,.12,.16,.2,.24,.3,.36,.42,.5,.63,.62,.6,.58,.56,.58,.6,.62,.64,.67,.7,.72,.72,.69,.67,.65,.64,.62,.68],
  [0,.05,.1,.14,.18,.23,.28,.33,.37,.5,.7,1.1],
  [0,.03,.06,.08,.1,.12,.14,.16,.18,.2,.22,.24,.26,.28,.3,.32,.34,.34,.32,.28,.25,.26,.27,.33,.42,.84,1.01],
  [0,.02,.04,.06,.07,.08,.1,.11,.12,.14,.15,.16,.17,.18,.18,.19,.2,.2,.2,.2,.2,.22,.24,.26,.3,.35,.38,.42,.46,.9],
  [0,.02,.03,.04,.05,.06,.06,.07,.07,.08,.08,.09,.1,.1,.1,.11,.12,.12,.12,.12,.12,.12,.12,.11,.11,.1,.09,.08,.06,.05],
  [0,.01,.01,.02,.02,.02,.02,.03,.03,.03,.03,.03,.03,.03,.03,.03,.03,.03,.03,.03,.03,.03,.03,.03,.03,.03,.03,.03,.03,.03],
  [0,.005,.01,.01,.015,.02,.02,.02,.02,.02,.02,.02,.02,.02,.02,.02,.02,.025,.025,.025,.025,.025,.025,.025,.025,.025,.025,.025,.025,.025],
  [0,.01,.01,.01,.015,.02,.02,.02,.02,.02,.02,.02,.02,.03,.03,.03,.03,.03,.03,.03,.03,.03,.03,.03,.03,.035,.035,.035,.035,.035],
  [0,.02,.04,.05,.07,.08,.09,.1,.11,.12,.12,.13,.14,.15,.15,.15,.14,.13,.12,.11,.11,.12,.12]
];
const p4Green = [
  [0,.05,.1,.15,.2,.26,.33,.42,.55,.75,.9,.6,.7,.85,1.17],
  [0,.04,.08,.12,.17,.21,.25,.29,.33,.36,.4,.45,.52,.6,.66,.68,.7,.74,.74,.75,.76,.77,.79,.82,.83],
  [0,.03,.06,.09,.11,.14,.16,.18,.2,.22,.24,.26,.28,.3,.32,.34,.36,.37,.38,.38,.39,.4,.4,.4,.4,.39,.38,.37,.4,.44],
  [0,.02,.05,.07,.09,.11,.13,.15,.17,.19,.21,.22,.24,.25,.26,.27,.28,.29,.31,.32,.34,.36,.38,.38,.4,.45,.6,.74,.68,.82],
  [0,.02,.04,.06,.08,.1,.11,.12,.14,.15,.16,.17,.18,.18,.18,.19,.19,.2,.2,.2,.22,.26,.3,.27,.3,.34,.33,.38,.32,.32],
  [0,.02,.03,.05,.06,.07,.08,.09,.1,.1,.11,.12,.12,.13,.13,.14,.14,.14,.15,.15,.16,.17,.18,.2,.22,.26,.3,.36,.45,.64],
  [0,.01,.02,.03,.03,.04,.04,.05,.05,.05,.05,.05,.05,.05,.05,.05,.05,.05,.05,.05,.05,.05,.05,.05,.05,.05,.05,.04,.04,.04],
  [0,.03,.05,.07,.1,.12,.14,.15,.16,.18,.2,.21,.22,.23,.24,.25,.26,.25,.24],
  [0,.02,.04,.05,.07,.08,.09,.1,.11,.12,.13,.13,.14,.15,.16,.17,.17,.17]
];
const p4Lime = [
  [0,.08,.16,.25,.32,.4,.47,.6,.78,1.31],
  [0,.04,.07,.1,.13,.16,.19,.22,.25,.28,.3,.33,.36,.38,.4,.42,.43,.38,.32,.3,.3,.33,.54,.52,.4,.42,.48,.5,.53,.82],
  [0,.03,.06,.09,.11,.13,.15,.17,.18,.19,.2,.2,.21,.21,.22,.23,.24,.24,.24,.24,.22,.2,.25,.3,.33,.38,.42,.44,.4,.3],
  [0,.02,.03,.04,.05,.06,.07,.08,.09,.1,.11,.12,.13,.13,.14,.15,.16,.16,.17,.18,.17,.16,.14,.14,.15,.15,.15,.14,.13,.15],
  [0,.01,.02,.02,.03,.03,.03,.03,.03,.03,.03,.03,.03,.03,.03,.03,.03,.03,.03,.03,.03,.03,.02,.02,.02,.02,.02,.02,.01,.01],
  [0,.01,.01,.01,.01,.01,.01,.01,.01,.01,.01,.01,.01,.01,.01,.01,.01,.01,.01,.01,.01,.01,.01,.01,.01,.01,.01,.01,.01,.01],
  [0,.04,.07,.1,.13,.15,.17,.19,.2,.21,.22,.23,.23,.23,.24,.22,.2,.18,.17],
  [0,.02,.05,.07,.09,.1,.11,.12,.13,.14,.15,.15,.15,.16,.16,.17,.16,.14]
];
const p4Yellow = [
  [0,.3,.5,.67,1.35,2.1,1.3],
  [0,.04,.08,.12,.16,.2,.24,.28,.33,.38,.44,.5,.55,.62,.65,.68,.73,.82,.92,.98,1.14,1.22,1.32,1.29],
  [0,.25,.92,1.12],
  [0,.03,.06,.09,.12,.15,.17,.19,.2,.22,.23,.25,.28,.33,.38,.4,.42,.44,.44,.5,.51,.5,.3,.37,.43,.63],
  [0,.03,.05,.07,.09,.11,.13,.14,.16,.17,.17,.18,.18,.19,.19,.19,.2,.2,.2,.2,.19,.2,.22],
  [0,.02,.04,.05,.06,.07,.08,.09,.09,.1,.1,.1,.1,.1,.1,.1,.09,.08,.08],
  [0,.01,.01,.02,.02,.02,.03,.03,.03,.03,.03,.03,.03,.03,.03,.03,.02,.02,.02,.02],
  [0,.005,.005,.005,.005,.005,.005,.005,.005,.005,.005,.005,.005,.005,.005,.005,.005,.005,.005,.005,.005,.005,.005,.005,.005,.005,.005,.005,.005,.005],
  [0,.005,.01,.01,.01,.01,.01,.01,.01,.01,.01,.01,.01,.01,.01,.01,.01,.01,.01,.01,.01,.01,.01,.01,.01],
  [0,.01,.02,.03,.04,.05,.05,.06,.06,.07,.07,.07,.07,.07,.06,.06,.05,.05],
  [0,.06,.12,.17,.21,.25,.28,.31,.34,.36]
];
const p4Orange = [
  [0,.12,.24,.36,.52,.6,.7,1.16,1.99,2.05],
  [0,.14,.3,.42,.68,.71,.7,.92,.73,.76,.81,.88],
  [0,.1,.2,.3,.5,.55,.8,.82,.88],
  [0,.05,.1,.14,.18,.22,.26,.3,.33,.36,.38,.41,.44,.5,.67,.9,.91,.82],
  [0,.04,.07,.1,.14,.18,.22,.26,.3,.33,.36,.38,.4,.42,.45,.47,.52,.54,.53],
  [0,.03,.06,.08,.1,.12,.14,.16,.18,.2,.22,.24,.26,.27,.3,.35,.46,.4,.3,.16,.18],
  [0,.02,.04,.06,.07,.08,.1,.11,.12,.12,.13,.14,.15,.16,.17,.17,.16,.14],
  [0,.01,.02,.03,.03,.04,.04,.05,.05,.05,.05,.05,.05,.05,.05,.04,.04],
  [0,.01,.01,.01,.01,.01,.02,.02,.02,.02,.02,.02,.02,.02,.02,.02,.01],
  [0,.05,.1,.15,.2,.25,.28,.32,.36,.38,.37,.4],
  [0,.04,.08,.12,.15,.19,.22,.24,.26,.28,.29,.3,.3],
  [0,.02,.05,.07,.09,.1,.12,.13,.14,.14,.15,.15,.16,.17,.18],
  [0,.01,.03,.04,.05,.06,.07,.07,.08,.08,.08,.09,.09,.09],
  [0,.005,.01,.01,.01,.01,.01,.01,.01,.01,.01,.01,.01,.01,.01,.01,.01,.01]
];
const p4Red = [
  [0,.25,.62,1.12],
  [0,.06,.12,.18,.24,.3,.4,.55,1.67],
  [0,.12,.24,.35,.5,.42,.87],
  [0,.05,.1,.15,.21,.38,.4,.41,.25,.36,.6,.85],
  [0,.07,.13,.2,.27,.32,.34,.36,.34,.25,.03,.22,.35,.48,.45,.6],
  [0,.04,.08,.12,.15,.18,.2,.22,.25,.27,.29,.28,.22,.3,.34],
  [0,.03,.06,.09,.11,.13,.14,.15,.17,.18,.19,.19,.19,.2,.26],
  [0,.03,.05,.07,.08,.09,.1,.11,.11,.12,.13,.14,.15,.17,.18],
  [0,.02,.03,.05,.06,.06,.07,.07,.08,.08,.09,.09,.1,.1,.11],
  [0,.01,.02,.03,.03,.04,.04,.04,.04,.04,.04,.04,.04,.03,.03],
  [0,.01,.01,.01,.02,.02,.02,.02,.02,.02,.02,.02,.02,.02,.02],
  [0,.01,.01,.01,.01,.01,.01,.01,.01,.01,.01,.01,.01,.01,.01],
  [0,.06,.11,.16,.2,.24,.27,.31,.33,.36,.41,.44,.47],
  [0,.05,.09,.13,.16,.2,.23,.25,.27,.29,.3,.31,.32,.33],
  [0,.04,.07,.1,.13,.15,.17,.18,.2,.21,.22,.23,.24,.25,.26],
  [0,.02,.04,.06,.08,.09,.1,.12,.13,.13,.14,.14,.15,.16],
  [0,.02,.03,.04,.05,.06,.07,.08,.09,.1,.1,.1,.11],
  [0,.01,.02,.02,.03,.03,.03,.03,.04,.04,.04,.04],
  [0,.05,.08,.1,.11,.13,.15,.16,.17],
  [0,.03,.06,.07,.08,.1,.12,.14,.15,.12,.08]
];
const p4DarkRed = [
  [0,.27,.2,.42,.67,.55],
  [0,.15,.25,.32,.42,.58],
  [0,.08,.14,.2,.25,.27],
  [0,.05,.09,.12,.15,.17],
  [0,.03,.06,.08,.1,.11],
  [0,.02,.04,.05,.06,.07],
  [0,.01,.02,.03,.03,.04],
  [0,.01,.01,.01,.02,.02],
  [0,.02,.03,.04,.04,.05],
  [0,.005,.01,.01,.01,.01],
  [0,.01,.01,.02,.02,.02]
];

const jet = {
  darkBlue: "#2a25c4", blue: "#2f5cf2", lightBlue: "#3aa6ff", cyan: "#2fe4ff",
  green: "#58f7a8", lime: "#b0fb4e", yellow: "#fbe62c", orange: "#ff9a2e",
  red: "#ee3a22", darkRed: "#a31a1e"
};

const panels = [
  { box: [21, 83, 576, 441], plot: [83, 105, 468, 370], axis: "#8a8a8a", axisWidth: 1.5,
    groups: [[p1DarkBlue, "darkBlue"], [p1Blue, "blue"], [p1LightBlue, "lightBlue"], [p1Cyan, "cyan"], [p1Green, "green"], [p1Lime, "lime"], [p1Yellow, "yellow"], [p1Orange, "orange"], [p1Red, "red"], [p1DarkRed, "darkRed"]] },
  { box: [642, 77, 570, 443], plot: [696, 110, 456, 362], axis: "#8a8a8a", axisWidth: 1.5,
    groups: [[p2DarkBlue, "darkBlue"], [p2Blue, "blue"], [p2LightBlue, "lightBlue"], [p2Cyan, "cyan"], [p2Green, "green"], [p2Lime, "lime"], [p2Yellow, "yellow"], [p2Orange, "orange"], [p2Red, "red"], [p2DarkRed, "darkRed"]] },
  { box: [7, 533, 575, 450], plot: [85, 559, 468, 369], axis: "#3c3c3c", axisWidth: 1,
    groups: [[p3DarkBlue, "darkBlue"], [p3Blue, "blue"], [p3LightBlue, "lightBlue"], [p3Cyan, "cyan"], [p3Green, "green"], [p3Lime, "lime"], [p3Yellow, "yellow"], [p3Orange, "orange"], [p3Red, "red"], [p3DarkRed, "darkRed"]] },
  { box: [642, 538, 570, 436], plot: [696, 565, 456, 361], axis: "#8a8a8a", axisWidth: 1.5,
    groups: [[p4DarkBlue, "darkBlue"], [p4Blue, "blue"], [p4LightBlue, "lightBlue"], [p4Cyan, "cyan"], [p4Green, "green"], [p4Lime, "lime"], [p4Yellow, "yellow"], [p4Orange, "orange"], [p4Red, "red"], [p4DarkRed, "darkRed"]] }
];

const FONT = "'Liberation Sans', Arial, sans-serif";
const textColor = "#3c3c3c";

const chart = echarts.init(document.getElementById("chart"), null, { renderer: "canvas" });

const series = [];
panels.forEach((p, i) => {
  p.groups.forEach(([tracks, colorKey]) => {
    tracks.forEach((values) => {
      series.push({
        type: "line",
        xAxisIndex: i,
        yAxisIndex: i,
        showSymbol: false,
        silent: true,
        clip: true,
        lineStyle: { color: jet[colorKey], width: 1.2, opacity: 0.85 },
        data: values.map((v, t) => [t, v])
      });
    });
  });
});

chart.setOption({
  animation: false,
  backgroundColor: "#fff",
  title: [
    { text: titles[0], left: 280, top: 7, textAlign: "center", textStyle: { fontFamily: FONT, fontSize: 42, fontWeight: "normal", color: "#000" } },
    { text: titles[1], left: 933, top: 7, textAlign: "center", textStyle: { fontFamily: FONT, fontSize: 42, fontWeight: "normal", color: "#000" } }
  ],
  graphic: panels.map((p) => ({
    type: "rect",
    silent: true,
    z: -1,
    shape: { x: p.box[0] + 0.5, y: p.box[1] + 0.5, width: p.box[2], height: p.box[3] },
    style: { fill: "#fff", stroke: "#d4d4d4", lineWidth: 1 }
  })),
  grid: panels.map((p) => ({ left: p.plot[0], top: p.plot[1], width: p.plot[2], height: p.plot[3] })),
  xAxis: panels.map((p, i) => ({
    type: "value",
    gridIndex: i,
    min: 0,
    max: 30,
    interval: 5,
    name: "Delay (s)",
    nameLocation: "middle",
    nameGap: 22,
    nameTextStyle: { fontFamily: FONT, fontSize: 10.5, color: textColor },
    splitLine: { show: false },
    axisLine: { lineStyle: { color: p.axis, width: p.axisWidth } },
    axisTick: { inside: true, length: 5, lineStyle: { color: textColor } },
    axisLabel: { fontFamily: FONT, fontSize: 10, color: textColor, margin: 6 }
  })),
  yAxis: panels.map((p, i) => ({
    type: "value",
    gridIndex: i,
    min: 0,
    max: 3,
    interval: 0.5,
    name: "{a|MSD (}{i|μ}{a|m}{s|2}{a|)}",
    nameLocation: "middle",
    nameGap: 24,
    nameTextStyle: {
      padding: [0, 6, 0, 0],
      rich: {
        a: { fontFamily: FONT, fontSize: 10.5, color: textColor },
        i: { fontFamily: FONT, fontSize: 10.5, fontStyle: "italic", color: textColor },
        s: { fontFamily: FONT, fontSize: 7.5, color: textColor, verticalAlign: "top", lineHeight: 12 }
      }
    },
    splitLine: { show: false },
    axisLine: { lineStyle: { color: p.axis, width: p.axisWidth } },
    axisTick: { inside: true, length: 5, lineStyle: { color: textColor } },
    axisLabel: { fontFamily: FONT, fontSize: 10, color: textColor, margin: 5 }
  })),
  series
});
</script>
</body>
</html>
